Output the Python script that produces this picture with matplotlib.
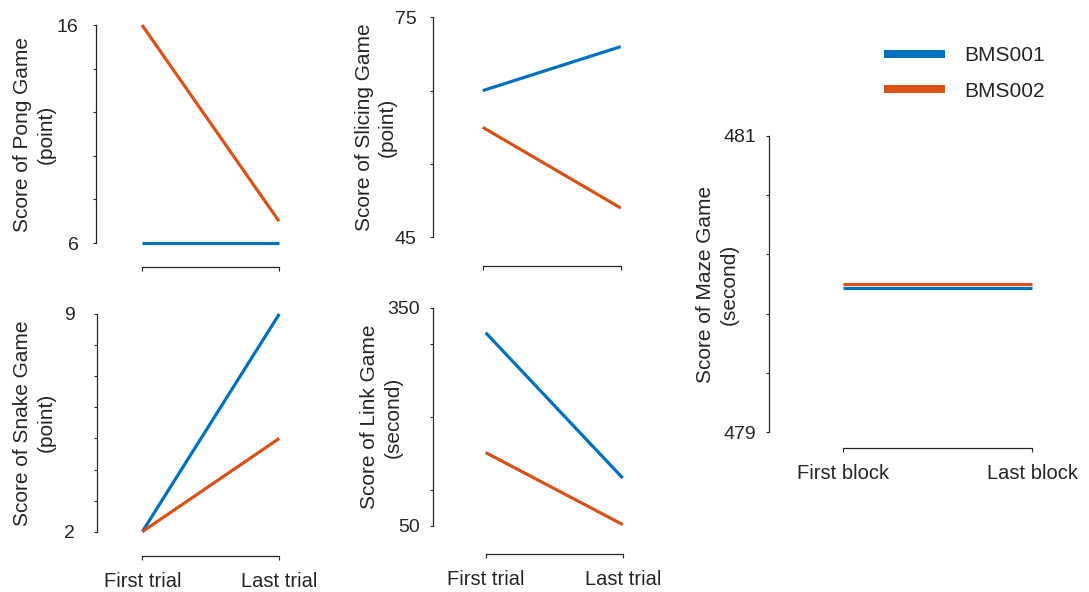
import matplotlib
matplotlib.use("Agg")
import matplotlib.pyplot as plt
from matplotlib.lines import Line2D

plt.rcParams["font.family"] = ["Liberation Sans", "DejaVu Sans"]

# ---- data -------------------------------------------------------------
subjects = ["BMS001", "BMS002"]
trial_labels = ["First trial", "Last trial"]
block_labels = ["First block", "Last block"]

pong_bms001 = [6, 6]
pong_bms002 = [16, 7]

slicing_bms001 = [65, 71]
slicing_bms002 = [60, 49]

snake_bms001 = [2, 9]
snake_bms002 = [2, 5]

link_bms001 = [316, 116]
link_bms002 = [151, 52]

maze_bms001 = [479.975, 479.975]
maze_bms002 = [480.0, 480.0]

pong_ticks = [6, 8, 10, 12, 14, 16]
slicing_ticks = [45, 55, 65, 75]
snake_ticks = [2, 3, 4, 5, 6, 7, 8, 9]
link_ticks = [50, 100, 200, 300, 350]
maze_ticks = [479, 479.4, 479.8, 480.2, 480.6, 481]

# ---- style ------------------------------------------------------------
BLUE = "#0072BD"
ORANGE = "#D95319"
INK = "#262626"
W, H = 1089, 592

fig = plt.figure(figsize=(W / 100, H / 100), dpi=100)


def px_axes(left, right, top, bottom):
    return fig.add_axes([left / W, 1 - bottom / H, (right - left) / W, (bottom - top) / H])


def panel(rect, s1, s2, ticks, ylabel, label_x, left_off, bottom_off,
          ypad, xlabels=None):
    ax = px_axes(*rect)
    ax.plot([0, 1], s1, color=BLUE, lw=2.3, clip_on=False, solid_capstyle="butt")
    ax.plot([0, 1], s2, color=ORANGE, lw=2.3, clip_on=False, solid_capstyle="butt")
    ax.set_xlim(0, 1)
    ax.set_ylim(ticks[0], ticks[-1])
    for side in ("top", "right"):
        ax.spines[side].set_visible(False)
    ax.spines["left"].set_position(("outward", left_off))
    ax.spines["bottom"].set_position(("outward", bottom_off))
    for side in ("left", "bottom"):
        ax.spines[side].set_color(INK)
        ax.spines[side].set_linewidth(0.9)
    ax.set_yticks(ticks)
    ax.set_yticklabels([f"{t:g}" if t in (ticks[0], ticks[-1]) else "" for t in ticks])
    ax.set_xticks([0, 1])
    if xlabels is None:
        ax.set_xticklabels(["", ""])
    else:
        ax.set_xticklabels(xlabels)
    ax.tick_params(axis="y", direction="out", length=2.5, width=0.8, color=INK,
                   labelcolor=INK, labelsize=14, pad=ypad)
    ax.tick_params(axis="x", direction="out", length=3, width=0.8, color=INK,
                   labelcolor=INK, labelsize=14.5, pad=8.5)
    ax.patch.set_visible(False)
    ax.set_ylabel(ylabel, fontsize=15, color=INK, va="center", ha="center",
                  linespacing=1.3)
    ax.yaxis.set_label_coords((label_x - rect[0]) / (rect[1] - rect[0]), 0.5)
    return ax


panel((142, 279, 25, 243), pong_bms001, pong_bms002, pong_ticks,
      "Score of Pong Game\n(point)", 34.5, 33.1, 17.0, 10)
panel((482.7, 620.7, 17.3, 237.3), slicing_bms001, slicing_bms002, slicing_ticks,
      "Score of Slicing Game\n(point)", 376, 36.0, 20.4, 9)
panel((142.3, 279.3, 314, 531.7), snake_bms001, snake_bms002, snake_ticks,
      "Score of Snake Game\n(point)", 34.5, 32.8, 17.3, 13.5, trial_labels)
panel((485.7, 622.7, 308, 526), link_bms001, link_bms002, link_ticks,
      "Score of Link Game\n(second)", 381, 38.2, 20.4, 6.8, trial_labels)
panel((843.3, 1032.3, 135.7, 432.3), maze_bms001, maze_bms002, maze_ticks,
      "Score of Maze Game\n(second)", 717, 53.3, 11.5, 7, block_labels)

handles = [Line2D([], [], color=BLUE, lw=5.8, solid_capstyle="butt"),
           Line2D([], [], color=ORANGE, lw=5.8, solid_capstyle="butt")]
leg = fig.legend(handles, subjects, loc="upper left",
                 bbox_to_anchor=(884 / W, 1 - 46 / H), frameon=False,
                 fontsize=15, handlelength=2.93, handletextpad=0.9,
                 labelspacing=0.8, borderpad=0, borderaxespad=0)
for t in leg.get_texts():
    t.set_color(INK)

fig.savefig("out.png", dpi=100)
